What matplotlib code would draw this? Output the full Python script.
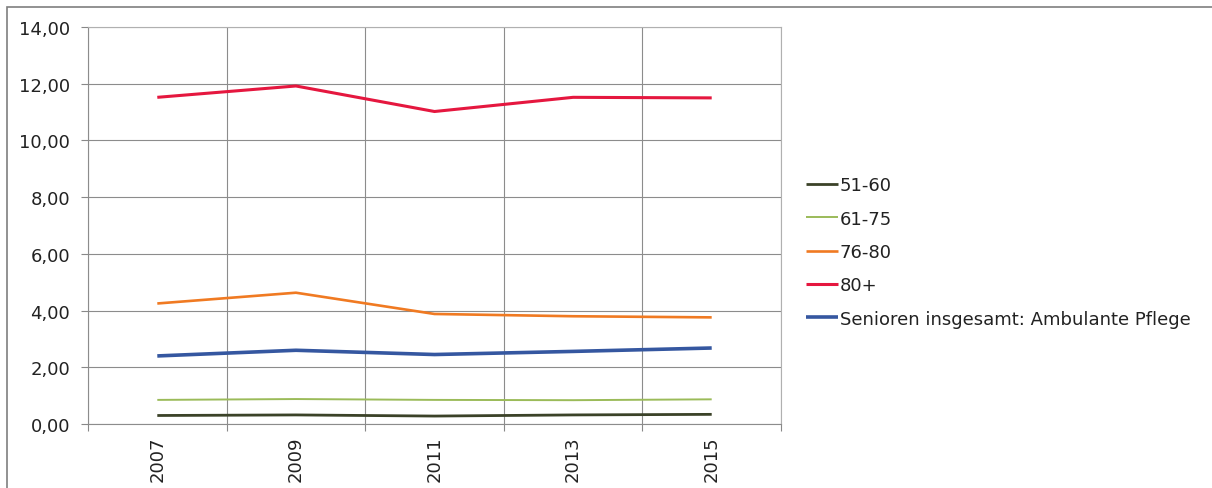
import matplotlib
matplotlib.use("Agg")
import matplotlib.pyplot as plt
from matplotlib.patches import Rectangle

years = ["2007", "2009", "2011", "2013", "2015"]
s_51_60 = [0.30, 0.32, 0.28, 0.32, 0.34]
s_61_75 = [0.85, 0.88, 0.85, 0.84, 0.87]
s_76_80 = [4.25, 4.63, 3.88, 3.80, 3.76]
s_80p = [11.52, 11.92, 11.02, 11.52, 11.50]
s_total = [2.40, 2.60, 2.45, 2.56, 2.68]

labels = ["51-60", "61-75", "76-80", "80+", "Senioren insgesamt: Ambulante Pflege"]
colors = ["#3b4228", "#9bbb59", "#f07a22", "#e5173f", "#3557a0"]
widths = [2.0, 1.4, 1.9, 2.2, 2.6]

plt.rcParams['font.family'] = ['DejaVu Sans']

W, H = 1212, 489
fig = plt.figure(figsize=(W / 100, H / 100), dpi=100)
ax = fig.add_axes([88 / W, 1 - 425 / H, (781 - 88) / W, (425 - 28) / H])

x = list(range(len(years)))
series = [s_51_60, s_61_75, s_76_80, s_80p, s_total]
for s, lab, c, lw in zip(series, labels, colors, widths):
    ax.plot(x, s, color=c, lw=lw, label=lab, solid_capstyle='butt')

ax.set_xlim(-0.5, len(years) - 0.5)
ax.set_ylim(0, 14)
ax.set_yticks(range(0, 15, 2))
ax.set_yticklabels([f"{v:.2f}".replace(".", ",") for v in range(0, 15, 2)], fontsize=13, color="#222222")
ax.set_xticks(x)
ax.set_xticklabels(years, rotation=90, fontsize=13, color="#222222")
ax.set_xticks([i + 0.5 for i in range(-1, len(years))], minor=True)
ax.tick_params(axis='x', which='major', length=0, pad=8)
ax.tick_params(axis='x', which='minor', length=5, color="#888888", width=0.8)
ax.tick_params(axis='y', length=5, color="#888888", pad=8, width=0.8)
ax.grid(True, which='major', axis='y', color="#8c8c8c", lw=0.8)
ax.grid(True, which='minor', axis='x', color="#8c8c8c", lw=0.8)
ax.set_axisbelow(True)
for side in ['top', 'right']:
    ax.spines[side].set_color("#b0b0b0")
    ax.spines[side].set_linewidth(0.8)
for side in ['left', 'bottom']:
    ax.spines[side].set_color("#8c8c8c")
    ax.spines[side].set_linewidth(0.8)

leg = fig.legend(loc='upper left', bbox_to_anchor=(799 / W, 1 - 170 / H), frameon=False,
                 fontsize=13, handlelength=1.75, handletextpad=0.1, labelspacing=0.85,
                 borderaxespad=0, labelcolor="#222222")

fig.patches.append(Rectangle((7 / W, -0.1), 1.2, 1 - 8 / H + 0.1, transform=fig.transFigure,
                             fill=False, edgecolor="#7f7f7f", lw=1.2))

fig.savefig("out.png", dpi=100)
